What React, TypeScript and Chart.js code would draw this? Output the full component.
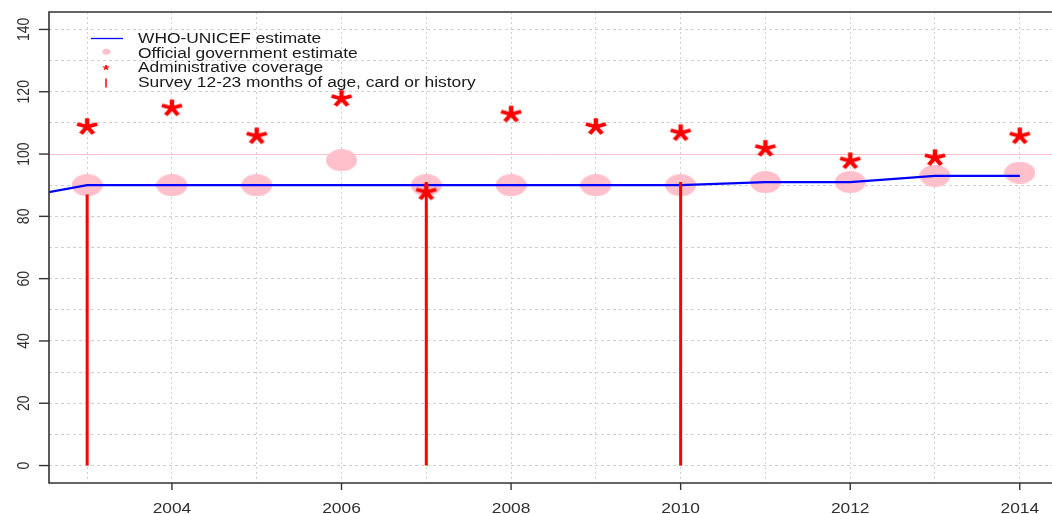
import React, { useEffect, useRef } from "react";
import { Chart, registerables } from "chart.js";

Chart.register(...registerables);

// ---------- data ----------
const gridYears = [2003, 2004, 2005, 2006, 2007, 2008, 2009, 2010, 2011, 2012, 2013, 2014];
const gridYValues = [0, 10, 20, 30, 40, 50, 60, 70, 80, 90, 100, 110, 120, 130, 140];
const xTickLabels = [2004, 2006, 2008, 2010, 2012, 2014];
const yTickLabels = [0, 20, 40, 60, 80, 100, 120, 140];

const whoYears = [2002, 2003, 2004, 2005, 2006, 2007, 2008, 2009, 2010, 2011, 2012, 2013, 2014];
const whoValues = [85, 90, 90, 90, 90, 90, 90, 90, 90, 91, 91, 93, 93];

const officialYears = [2003, 2004, 2005, 2006, 2007, 2008, 2009, 2010, 2011, 2012, 2013, 2014];
const officialValues = [90, 90, 90, 98, 90, 90, 90, 90, 91, 91, 93, 94];

const adminYears = [2003, 2004, 2005, 2006, 2007, 2008, 2009, 2010, 2011, 2012, 2013, 2014];
const adminValues = [109, 115, 106, 118, 88, 113, 109, 107, 102, 98, 99, 106];

const surveyYears = [2003, 2007, 2010];
const surveyValues = [87, 91, 91];

const referenceLine = 100;

const legendLabels = [
  "WHO-UNICEF estimate",
  "Official government estimate",
  "Administrative coverage",
  "Survey 12-23 months of age, card or history",
];

// ---------- style ----------
const X_MIN = 2002.55;
const X_MAX = 2014.38;
const Y_MIN = -5.6;
const Y_MAX = 145.6;
const SX = 1.24;
const FONT = '14px "Liberation Sans", Arial, sans-serif';

function makeEllipse(w: number, h: number, color: string) {
  const c = document.createElement("canvas");
  c.width = w;
  c.height = h;
  const ctx = c.getContext("2d")!;
  ctx.fillStyle = color;
  ctx.beginPath();
  ctx.ellipse(w / 2, h / 2, w / 2, h / 2, 0, 0, Math.PI * 2);
  ctx.fill();
  return c;
}

function drawAsterisk(ctx: CanvasRenderingContext2D, cx: number, cy: number, L: number, lw: number) {
  ctx.save();
  ctx.translate(cx, cy);
  ctx.scale(SX, 1);
  ctx.strokeStyle = "#ff0000";
  ctx.lineWidth = lw;
  ctx.lineCap = "butt";
  ctx.beginPath();
  for (let k = 0; k < 5; k++) {
    const a = -Math.PI / 2 + (k * 2 * Math.PI) / 5;
    ctx.moveTo(0, 0);
    ctx.lineTo(L * Math.cos(a), L * Math.sin(a));
  }
  ctx.stroke();
  ctx.restore();
}

function makeAsterisk() {
  const c = document.createElement("canvas");
  c.width = 30;
  c.height = 24;
  const ctx = c.getContext("2d")!;
  drawAsterisk(ctx, 15, 12.7, 8.5, 3.6);
  return c;
}

const decorPlugin = {
  id: "decor",
  beforeDatasetsDraw(chart: any) {
    const { ctx, chartArea: ca, scales } = chart;
    const y = scales.y;
    ctx.save();
    ctx.beginPath();
    ctx.rect(ca.left, ca.top, ca.right - ca.left, ca.bottom - ca.top);
    ctx.clip();
    const py = Math.round(y.getPixelForValue(referenceLine)) + 0.5;
    ctx.strokeStyle = "#ffc0cb";
    ctx.lineWidth = 1;
    ctx.beginPath();
    ctx.moveTo(ca.left, py);
    ctx.lineTo(ca.right, py);
    ctx.stroke();
    ctx.restore();
  },
  afterDraw(chart: any) {
    const { ctx, chartArea: ca, scales } = chart;
    const x = scales.x;
    const y = scales.y;
    ctx.save();
    // box (left, top, bottom)
    ctx.strokeStyle = "#333333";
    ctx.lineWidth = 1.6;
    ctx.beginPath();
    ctx.moveTo(ca.right + 4, ca.top);
    ctx.lineTo(ca.left, ca.top);
    ctx.lineTo(ca.left, ca.bottom);
    ctx.lineTo(ca.right + 4, ca.bottom);
    ctx.stroke();

    // y ticks + rotated labels
    ctx.fillStyle = "#303030";
    ctx.font = FONT;
    ctx.lineWidth = 1.4;
    yTickLabels.forEach((v) => {
      const py = y.getPixelForValue(v);
      ctx.beginPath();
      ctx.moveTo(ca.left, py);
      ctx.lineTo(ca.left - 10, py);
      ctx.stroke();
      ctx.save();
      ctx.translate(29, py);
      ctx.scale(SX, 1);
      ctx.rotate(-Math.PI / 2);
      ctx.textAlign = "center";
      ctx.textBaseline = "alphabetic";
      ctx.fillText(String(v), 0, 0);
      ctx.restore();
    });

    // x ticks + labels
    xTickLabels.forEach((v) => {
      const px = x.getPixelForValue(v);
      ctx.beginPath();
      ctx.moveTo(px, ca.bottom);
      ctx.lineTo(px, ca.bottom + 7);
      ctx.stroke();
      ctx.save();
      ctx.translate(px, 513);
      ctx.scale(SX, 1);
      ctx.textAlign = "center";
      ctx.textBaseline = "alphabetic";
      ctx.fillText(String(v), 0, 0);
      ctx.restore();
    });

    // legend
    const baselines = [43.3, 57.5, 72.3, 86.6];
    ctx.fillStyle = "#1a1a1a";
    legendLabels.forEach((t, i) => {
      ctx.save();
      ctx.translate(138, baselines[i]);
      ctx.scale(SX, 1);
      ctx.textAlign = "left";
      ctx.textBaseline = "alphabetic";
      ctx.fillText(t, 0, 0);
      ctx.restore();
    });
    // symbols
    ctx.strokeStyle = "#0000ff";
    ctx.lineWidth = 1.3;
    ctx.beginPath();
    ctx.moveTo(91, 38.5);
    ctx.lineTo(123, 38.5);
    ctx.stroke();
    ctx.fillStyle = "#ffc0cb";
    ctx.beginPath();
    ctx.ellipse(106.5, 51.8, 4, 3, 0, 0, Math.PI * 2);
    ctx.fill();
    drawAsterisk(ctx, 106, 67.5, 2.6, 1.2);
    ctx.strokeStyle = "#ff0000";
    ctx.lineWidth = 1.5;
    ctx.beginPath();
    ctx.moveTo(106, 78.5);
    ctx.lineTo(106, 87.5);
    ctx.stroke();
    ctx.restore();
  },
};

export default function App() {
  const ref = useRef<HTMLCanvasElement | null>(null);

  useEffect(() => {
    if (!ref.current) return;
    const ellipse = makeEllipse(31, 22, "#ffc0cb");
    const star = makeAsterisk();

    const surveyData: any[] = [];
    surveyYears.forEach((yr, i) => {
      surveyData.push({ x: yr, y: 0 });
      surveyData.push({ x: yr, y: surveyValues[i] });
      surveyData.push({ x: yr, y: null });
    });

    const chart = new Chart(ref.current, {
      type: "scatter",
      data: {
        datasets: [
          {
            label: legendLabels[3],
            type: "line",
            data: surveyData,
            borderColor: "#ff0000",
            borderWidth: 3,
            pointRadius: 0,
            spanGaps: false,
            order: 1,
          } as any,
          {
            label: legendLabels[2],
            data: adminYears.map((yr, i) => ({ x: yr, y: adminValues[i] })),
            pointStyle: star as any,
            pointRadius: 6,
            order: 2,
          },
          {
            label: legendLabels[0],
            type: "line",
            data: whoYears.map((yr, i) => ({ x: yr, y: whoValues[i] })),
            borderColor: "#0000ff",
            borderWidth: 2.2,
            pointRadius: 0,
            tension: 0,
            order: 3,
          } as any,
          {
            label: legendLabels[1],
            data: officialYears.map((yr, i) => ({ x: yr, y: officialValues[i] })),
            pointStyle: ellipse as any,
            pointRadius: 6,
            order: 4,
          },
        ],
      },
      options: {
        animation: false,
        responsive: false,
        devicePixelRatio: 1,
        maintainAspectRatio: false,
        layout: { autoPadding: false, padding: { left: 49, top: 12, right: 0, bottom: 31 } },
        plugins: { legend: { display: false }, tooltip: { enabled: false } },
        events: [],
        scales: {
          x: {
            type: "linear",
            min: X_MIN,
            max: X_MAX,
            ticks: { display: false },
            afterBuildTicks: (s: any) => {
              s.ticks = gridYears.map((v) => ({ value: v }));
            },
            grid: { color: "#d0d0d0", lineWidth: 1, drawTicks: false },
            border: { display: false, dash: [2, 3] },
          },
          y: {
            type: "linear",
            min: Y_MIN,
            max: Y_MAX,
            ticks: { display: false },
            afterBuildTicks: (s: any) => {
              s.ticks = gridYValues.map((v) => ({ value: v }));
            },
            grid: { color: "#d0d0d0", lineWidth: 1, drawTicks: false },
            border: { display: false, dash: [3, 3] },
          },
        },
      } as any,
      plugins: [decorPlugin],
    });
    return () => chart.destroy();
  }, []);

  return (
    <div style={{ position: "absolute", left: 0, top: 0, width: 1052, height: 514, background: "#fff" }}>
      <canvas ref={ref} width={1052} height={514} style={{ display: "block" }} />
    </div>
  );
}
